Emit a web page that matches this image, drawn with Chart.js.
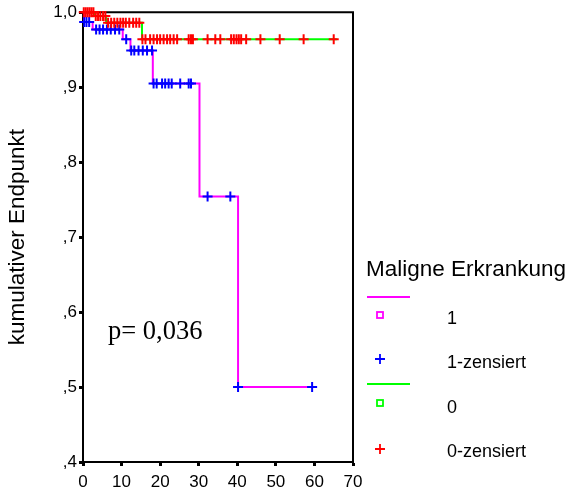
<!DOCTYPE html>
<html><head><meta charset="utf-8">
<script src="https://cdn.jsdelivr.net/npm/chart.js@4/dist/chart.umd.min.js"></script>
<style>html,body{margin:0;padding:0;background:#fff}</style>
</head><body>
<canvas id="c" width="569" height="492"></canvas>
<script>
// ---- data ----
const yTickValues = [0.4, 0.5, 0.6, 0.7, 0.8, 0.9, 1.0];
const yTickLabels = [',4', ',5', ',6', ',7', ',8', ',9', '1,0'];
const xTickValues = [0, 10, 20, 30, 40, 50, 60, 70];

// group "1" (Maligne Erkrankung = 1): Kaplan-Meier steps
const group1Times = [0, 0.2, 2.5, 10.3, 12.3, 18.1, 30.2, 40.2, 59.4];
const group1Surv  = [1.0, 0.987, 0.977, 0.964, 0.949, 0.905, 0.754, 0.5, 0.5];
// group "1" censored observations
const group1CensTimes = [0.3, 0.9, 1.6, 3.4, 4.3, 5.2, 6.2, 7.2, 8.3, 9.4, 11.2, 12.5, 13.3, 14.4, 15.5, 16.6, 17.9, 18.3, 19.1, 20.5, 21.3, 22.2, 23.0, 25.2, 27.4, 28.0, 32.3, 38.2, 40.2, 59.4];
const group1CensSurv  = [0.987, 0.987, 0.987, 0.977, 0.977, 0.977, 0.977, 0.977, 0.977, 0.977, 0.964, 0.949, 0.949, 0.949, 0.949, 0.949, 0.949, 0.905, 0.905, 0.905, 0.905, 0.905, 0.905, 0.905, 0.905, 0.905, 0.754, 0.754, 0.5, 0.5];

// group "0": Kaplan-Meier steps
const group0Times = [0, 3.0, 6.0, 15.3, 65.8];
const group0Surv  = [1.0, 0.995, 0.986, 0.964, 0.964];
// group "0" censored observations
const group0CensTimes = [0.2, 0.7, 1.2, 1.7, 2.2, 2.7, 3.3, 3.9, 4.5, 5.2, 5.8, 6.5, 7.3, 8.1, 8.9, 9.7, 10.4, 11.1, 12.0, 13.0, 13.8, 14.6, 15.4, 16.2, 17.4, 18.3, 19.2, 20.0, 20.9, 21.8, 22.6, 23.5, 24.4, 27.4, 28.0, 28.5, 32.3, 34.3, 35.6, 38.4, 39.1, 39.8, 40.4, 41.0, 42.3, 46.0, 51.0, 57.2, 65.0];
const group0CensSurv  = [1.0, 1.0, 1.0, 1.0, 1.0, 1.0, 0.995, 0.995, 0.995, 0.995, 0.995, 0.986, 0.986, 0.986, 0.986, 0.986, 0.986, 0.986, 0.986, 0.986, 0.986, 0.986, 0.964, 0.964, 0.964, 0.964, 0.964, 0.964, 0.964, 0.964, 0.964, 0.964, 0.964, 0.964, 0.964, 0.964, 0.964, 0.964, 0.964, 0.964, 0.964, 0.964, 0.964, 0.964, 0.964, 0.964, 0.964, 0.964, 0.964];

const pText = 'p= 0,036';
const legendTitle = 'Maligne Erkrankung';
const legendLabels = ['1', '1-zensiert', '0', '0-zensiert'];

// ---- colours / styles ----
const C_MAG = '#ff00ff', C_BLUE = '#0000ff', C_GREEN = '#00ff00', C_RED = '#ff0000';
const SANS = '"Liberation Sans", Arial, sans-serif';

const zip = (xs, ys) => xs.map((x, i) => ({x, y: ys[i]}));

const framePlugin = {
  id: 'frame',
  beforeDatasetsDraw(chart) {
    const {ctx, chartArea: a} = chart;
    ctx.save();
    ctx.strokeStyle = '#000';
    ctx.lineWidth = 2;
    ctx.beginPath();
    ctx.moveTo(a.left, a.top);
    ctx.lineTo(a.right, a.top);
    ctx.lineTo(a.right, a.bottom);
    ctx.stroke();
    ctx.restore();
  },
  afterDraw(chart) {
    const {ctx} = chart;
    ctx.save();
    // p-value annotation
    ctx.fillStyle = '#000';
    ctx.font = '26.5px "Liberation Serif", "Times New Roman", serif';
    ctx.textBaseline = 'alphabetic';
    ctx.textAlign = 'left';
    ctx.fillText(pText, 108, 339);
    // legend
    ctx.font = '22.5px ' + SANS;
    ctx.textBaseline = 'middle';
    ctx.fillText(legendTitle, 366, 270);
    ctx.font = '18px ' + SANS;
    const rows = [
      {type: 'sq', color: C_MAG, y: 315, line: 297, ty: 319},
      {type: 'cross', color: C_BLUE, y: 359, ty: 363},
      {type: 'sq', color: C_GREEN, y: 403, line: 384, ty: 408},
      {type: 'cross', color: C_RED, y: 449, ty: 452}
    ];
    rows.forEach((r, i) => {
      ctx.strokeStyle = r.color;
      if (r.line !== undefined) {
        ctx.lineWidth = 2;
        ctx.beginPath(); ctx.moveTo(367, r.line); ctx.lineTo(410, r.line); ctx.stroke();
      }
      ctx.lineWidth = 1.8;
      if (r.type === 'sq') {
        ctx.strokeRect(377, r.y - 3, 6, 6);
      } else {
        ctx.beginPath();
        ctx.moveTo(375, r.y); ctx.lineTo(385, r.y);
        ctx.moveTo(380, r.y - 5); ctx.lineTo(380, r.y + 5);
        ctx.stroke();
      }
      ctx.fillStyle = '#000';
      ctx.fillText(legendLabels[i], 447, r.ty);
    });
    ctx.restore();
  }
};

new Chart(document.getElementById('c'), {
  type: 'line',
  data: {
    datasets: [
      {label: '0-zensiert', type: 'scatter', data: zip(group0CensTimes, group0CensSurv),
       pointStyle: 'cross', pointRadius: 5, borderColor: C_RED, backgroundColor: C_RED, pointBorderWidth: 2, showLine: false, clip: false},
      {label: '1-zensiert', type: 'scatter', data: zip(group1CensTimes, group1CensSurv),
       pointStyle: 'cross', pointRadius: 5, borderColor: C_BLUE, backgroundColor: C_BLUE, pointBorderWidth: 2, showLine: false, clip: false},
      {label: '1', data: zip(group1Times, group1Surv), stepped: 'before', borderColor: C_MAG, borderWidth: 2, pointRadius: 0, fill: false},
      {label: '0', data: zip(group0Times, group0Surv), stepped: 'before', borderColor: C_GREEN, borderWidth: 2, pointRadius: 0, fill: false}
    ]
  },
  options: {
    responsive: false,
    animation: false,
    devicePixelRatio: 1,
    layout: {padding: {top: 12, right: 216, bottom: 0, left: 0}},
    plugins: {legend: {display: false}, tooltip: {enabled: false}},
    scales: {
      x: {
        type: 'linear', min: 0, max: 70,
        afterBuildTicks: s => { s.ticks = xTickValues.map(v => ({value: v})); },
        afterFit: s => { s.height = 30; },
        ticks: {color: '#000', font: {family: SANS, size: 17}, padding: 6, maxRotation: 0, autoSkip: false},
        grid: {drawOnChartArea: false, drawTicks: true, tickLength: 4, tickWidth: 3, color: '#000'},
        border: {display: true, color: '#000', width: 2}
      },
      y: {
        type: 'linear', min: 0.4, max: 1.0,
        afterBuildTicks: s => { s.ticks = yTickValues.map(v => ({value: v})); },
        afterFit: s => { s.width = 83; },
        ticks: {color: '#000', font: {family: SANS, size: 17}, padding: 2, autoSkip: false,
                callback: (v) => { const i = yTickValues.findIndex(t => Math.abs(t - v) < 1e-6); return i >= 0 ? yTickLabels[i] : ''; }},
        grid: {drawOnChartArea: false, drawTicks: true, tickLength: 4, tickWidth: 3, color: '#000'},
        border: {display: true, color: '#000', width: 2},
        title: {display: true, text: 'kumulativer Endpunkt', color: '#000', font: {family: SANS, size: 22.5}, padding: {top: 4, bottom: 4}}
      }
    }
  },
  plugins: [framePlugin]
});
</script>
</body></html>
